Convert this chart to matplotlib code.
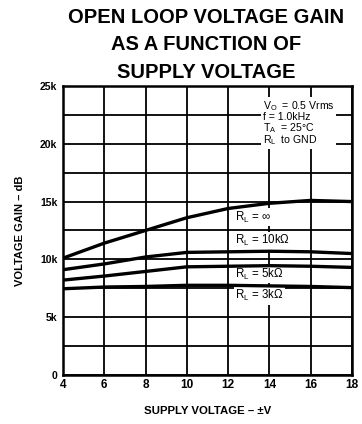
import matplotlib
matplotlib.use("Agg")
import matplotlib.pyplot as plt
from matplotlib.ticker import MultipleLocator

plt.rcParams["font.family"] = ["Liberation Sans", "DejaVu Sans"]
plt.rcParams["mathtext.default"] = "regular"

# Data (gain in dB, shown on the chart as "k")
supply_v = [4, 6, 8, 10, 12, 14, 16, 18]
gain_rl_inf = [10100, 11400, 12500, 13600, 14400, 14850, 15100, 15000]
gain_rl_10k = [9100, 9600, 10200, 10600, 10650, 10700, 10650, 10500]
gain_rl_5k = [8200, 8550, 8950, 9350, 9400, 9450, 9400, 9300]
gain_rl_3k = [7450, 7600, 7650, 7750, 7750, 7700, 7650, 7550]

x_ticks = [4, 6, 8, 10, 12, 14, 16, 18]
y_ticks = [0, 5000, 10000, 15000, 20000, 25000]
y_tick_labels = ["0", "5k", "10k", "15k", "20k", "25k"]

fig = plt.figure(figsize=(3.62, 4.24), dpi=100)
ax = fig.add_axes([0.174, 0.116, 0.798, 0.681])

# curves (drawn above the white label boxes)
for g in [gain_rl_inf, gain_rl_10k, gain_rl_5k, gain_rl_3k]:
    ax.plot(supply_v, g, color="black", lw=2.4, solid_capstyle="butt", zorder=5)

ax.set_xlim(4, 18)
ax.set_ylim(0, 25000)
ax.set_xticks(x_ticks)
ax.set_yticks(y_ticks)
ax.set_yticklabels(y_tick_labels)
ax.yaxis.set_minor_locator(MultipleLocator(2500))
ax.grid(True, which="both", color="black", lw=1.3)
ax.tick_params(which="both", length=0)
ax.tick_params(axis="y", labelsize=7.5, pad=4)
ax.tick_params(axis="x", labelsize=8.5, pad=3)
for lab in ax.get_xticklabels() + ax.get_yticklabels():
    lab.set_fontweight("bold")
for s in ax.spines.values():
    s.set_linewidth(1.8)

ax.set_xlabel("SUPPLY VOLTAGE \u2013 \u00b1V", fontsize=8.2, fontweight="bold", labelpad=11)
ax.set_ylabel("VOLTAGE GAIN \u2013 dB", fontsize=8, fontweight="bold", labelpad=11)

box = dict(facecolor="white", edgecolor="none", pad=1.2)

# conditions block
cond = "$V_O$  = 0.5 Vrms\nf = 1.0kHz\n$T_A$  = 25\u00b0C\n$R_L$  to GND"
ax.text(13.7, 23900, cond, fontsize=7.6, va="top", ha="left",
        linespacing=0.9, bbox=box, zorder=4)

# curve labels
lab_kw = dict(fontsize=8.3, va="center", bbox=box, zorder=4)
ax.text(12.35, 13650, "$R_L$ = \u221e", **lab_kw)
ax.text(12.35, 11600, "$R_L$ = 10k\u03a9", **lab_kw)
ax.text(12.35, 8700, "$R_L$ = 5k\u03a9", **lab_kw)
ax.text(12.35, 6850, "$R_L$ = 3k\u03a9", **lab_kw)

# title
title_lines = ["OPEN LOOP VOLTAGE GAIN", "AS A FUNCTION OF", "SUPPLY VOLTAGE"]
for i, t in enumerate(title_lines):
    fig.text(0.569, 1 - (17.5 + 27.5 * i) / 424, t, fontsize=14.5,
             fontweight="bold", ha="center", va="center")

fig.savefig("out.png", dpi=100)
